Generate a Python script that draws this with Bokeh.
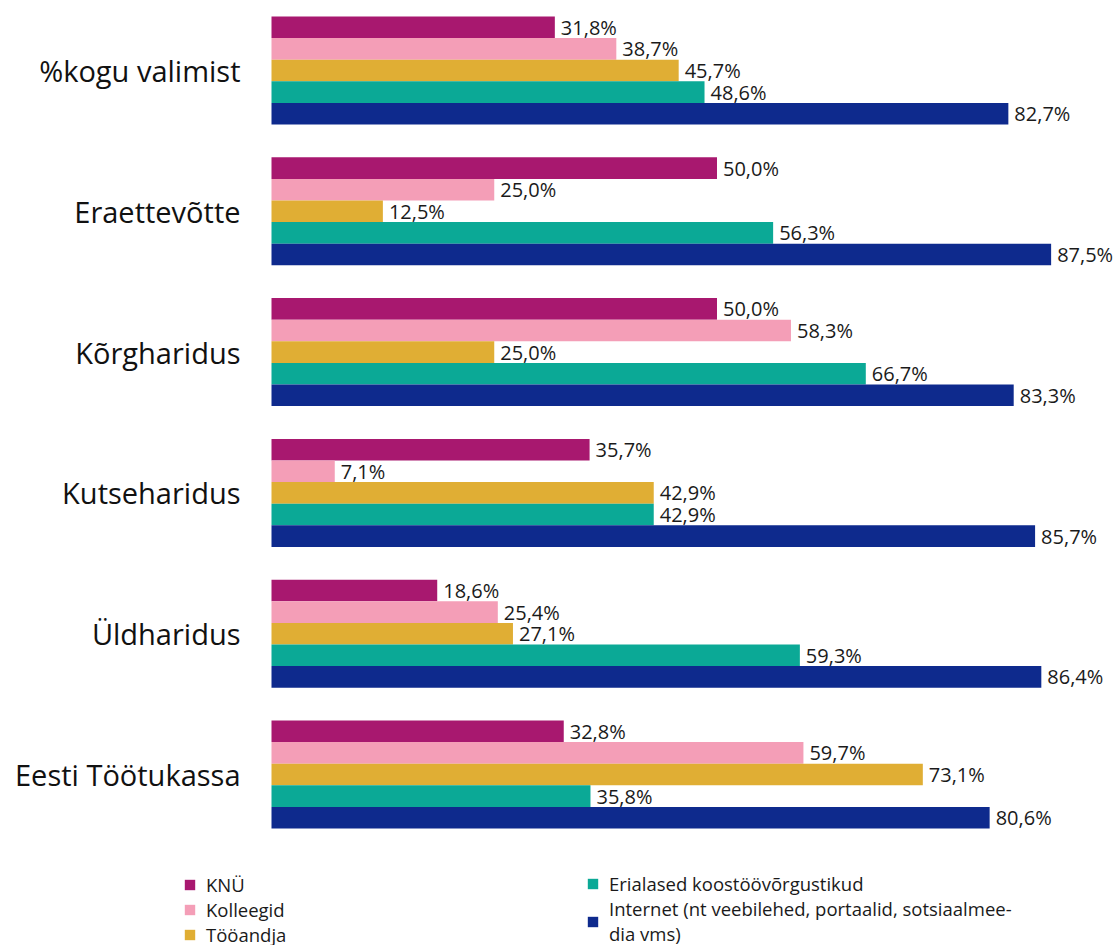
from bokeh.plotting import figure
from bokeh.models import ColumnDataSource, Range1d, Legend, LegendItem
from bokeh.core.properties import value
from bokeh.embed import file_html
from bokeh.resources import INLINE

categories = ["%kogu valimist", "Eraettevõtte", "Kõrgharidus", "Kutseharidus", "Üldharidus", "Eesti Töötukassa"]
series_names = ["KNÜ", "Kolleegid", "Tööandja", "Erialased koostöövõrgustikud",
                "Internet (nt veebilehed, portaalid, sotsiaalmee-\ndia vms)"]
knu = [31.8, 50.0, 50.0, 35.7, 18.6, 32.8]
kolleegid = [38.7, 25.0, 58.3, 7.1, 25.4, 59.7]
tooandja = [45.7, 12.5, 25.0, 42.9, 27.1, 73.1]
erialased = [48.6, 56.3, 66.7, 42.9, 59.3, 35.8]
internet = [82.7, 87.5, 83.3, 85.7, 86.4, 80.6]
series_values = [knu, kolleegid, tooandja, erialased, internet]
colors = ["#A8186F", "#F49EB7", "#E0AE34", "#0BA996", "#0E2A8D"]

FONT = "Open Sans"
W, H = 1117, 945
X0 = 271          # px from figure left where x = 0
PXU = 8.91        # px per percent
GY0 = 70          # px from figure top to first group centre
GPX = 140.8       # px per group
BAR = 21.6 / GPX  # bar thickness in group units

p = figure(width=W, height=H, output_backend="svg", toolbar_location=None,
           x_range=Range1d(-X0 / PXU, (W - X0) / PXU),
           y_range=Range1d((H - GY0) / GPX, -GY0 / GPX),
           min_border=0, outline_line_color=None)
p.axis.visible = False
p.grid.visible = False
p.background_fill_color = "white"

renderers = []
for j, (name, vals, col) in enumerate(zip(series_names, series_values, colors)):
    ys = [i + (j - 2) * BAR for i in range(len(categories))]
    labels = [f"{v:.1f}".replace(".", ",") + "%" for v in vals]
    src = ColumnDataSource(dict(y=ys, v=vals, lab=labels))
    r = p.hbar(y="y", right="v", left=0, height=BAR, source=src,
               fill_color=col, line_color=None)
    renderers.append(r)
    p.text(x="v", y="y", text="lab", source=src, x_offset=6,
           text_font=value(FONT), text_font_size="20px", text_color="#1a1a1a",
           text_baseline="middle", text_align="left")

csrc = ColumnDataSource(dict(x=[0] * len(categories), y=list(range(len(categories))), t=categories))
p.text(x="x", y="y", text="t", source=csrc, x_offset=-31,
       text_font=value(FONT), text_font_size="29px", text_color="#111111",
       text_baseline="middle", text_align="right")

def make_legend(items, loc):
    lg = Legend(items=items, location=loc, orientation="vertical",
                label_text_font=FONT, label_text_font_size="18.5px", label_text_color="#1a1a1a",
                glyph_width=13, glyph_height=13, label_standoff=10, spacing=0,
                label_height=20, padding=0, margin=0,
                border_line_color=None, background_fill_alpha=0)
    return lg

items1 = [LegendItem(label=series_names[k], renderers=[renderers[k]]) for k in range(3)]
items2 = [LegendItem(label=series_names[k], renderers=[renderers[k]]) for k in range(3, 5)]
p.add_layout(make_legend(items1, (183, -2)), "center")
p.add_layout(make_legend(items2, (586, -1)), "center")

open("out.html", "w").write(file_html(p, INLINE))
